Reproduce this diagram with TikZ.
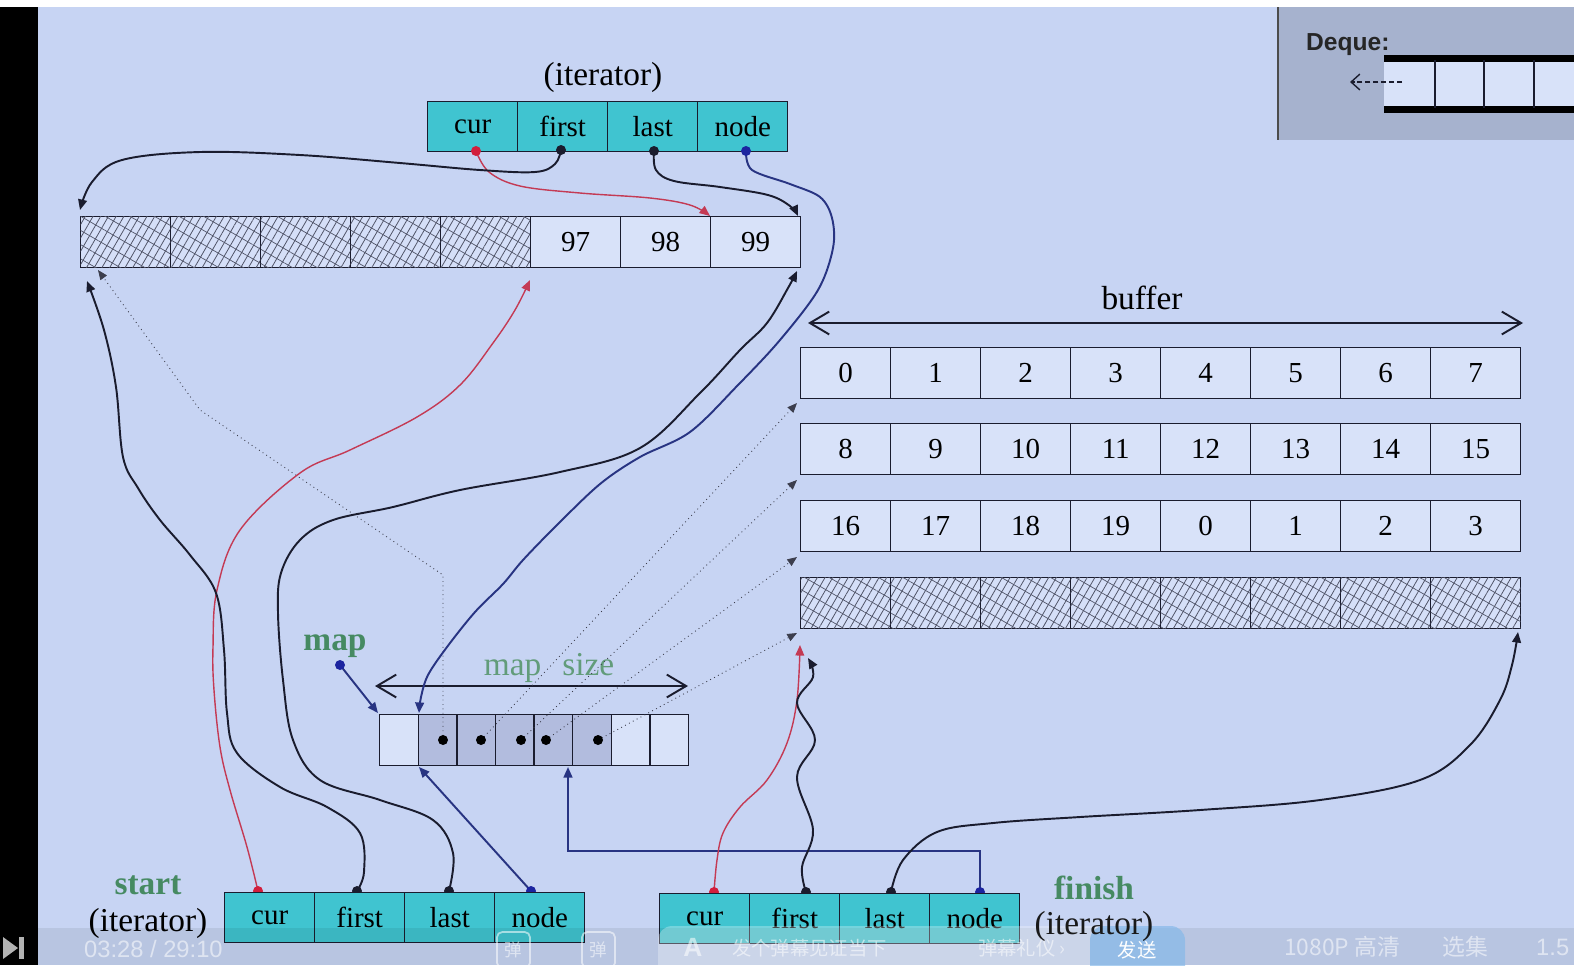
\documentclass[tikz,border=0pt]{standalone}
\usepackage{fontspec}
\setmainfont{Liberation Serif}
\newfontfamily\sansf{Liberation Sans}
\newfontfamily\cjkf{Noto Sans CJK SC}
\usetikzlibrary{arrows.meta,patterns.meta}
\definecolor{bg}{RGB}{199,212,243}
\definecolor{cyanc}{RGB}{64,196,208}
\definecolor{cellw}{RGB}{216,226,249}
\definecolor{mapg}{RGB}{178,188,222}
\definecolor{ink}{RGB}{26,28,46}
\definecolor{redl}{RGB}{196,58,84}
\definecolor{redd}{RGB}{210,30,60}
\definecolor{bluel}{RGB}{40,52,130}
\definecolor{blued}{RGB}{28,36,160}
\definecolor{greent}{RGB}{70,138,98}
\definecolor{dqgray}{RGB}{166,178,206}
\definecolor{hatch}{RGB}{80,84,104}
\definecolor{sendb}{RGB}{104,168,228}
\begin{document}
\begin{tikzpicture}[x=0.02cm,y=-0.02cm,
  cellbase/.style={draw=ink,line width=0.8pt,inner sep=0pt,anchor=north west,font=\fontsize{16.5}{18}\selectfont},
  itcell/.style={cellbase,fill=cyanc,minimum width=1.8cm,minimum height=1cm},
  bcell/.style={cellbase,fill=cellw,minimum width=1.8cm,minimum height=1.02cm},
  hcell/.style={bcell,fill=cellw!80!bg,
    postaction={pattern={Lines[angle=60,distance=3.8pt,line width=0.45pt]},pattern color=hatch},
    postaction={pattern={Lines[angle=-30,distance=7pt,line width=0.4pt]},pattern color=hatch}},
  mcell/.style={cellbase,fill=cellw,minimum width=0.772cm,minimum height=1.02cm},
  mgcell/.style={mcell,fill=mapg},
  conn/.style={line width=1.1pt,draw=ink,-{Triangle[length=6pt,width=5pt]}},
  rconn/.style={conn,draw=redl,line width=0.8pt},
  bconn/.style={conn,draw=bluel},
  dconn/.style={draw=ink!85,line width=0.5pt,dotted,-{Triangle[length=5.5pt,width=4.5pt]}},
  dimarrow/.style={line width=1.1pt,draw=ink,{Straight Barb[length=11pt,width=13pt]}-{Straight Barb[length=11pt,width=13pt]}},
  biglab/.style={font=\fontsize{19}{21}\selectfont},
  greenlab/.style={font=\bfseries\fontsize{19}{21}\selectfont,text=greent},
  ovl/.style={text=white,text opacity=0.55},
]
\useasboundingbox (0,0) rectangle (1574,965);
% background
\fill[bg] (0,0) rectangle (1574,965);
\fill[white] (0,0) rectangle (1574,7);
\fill[black] (0,7) rectangle (38,965);
% Deque box
\fill[dqgray] (1278,7) rectangle (1574,140);
\draw[black!70,line width=1pt] (1278,7) -- (1278,140);
\fill[cellw] (1384,60) rectangle (1574,108);
\draw[black,line width=4pt] (1384,58.5) -- (1574,58.5);
\draw[black,line width=4pt] (1384,109.5) -- (1574,109.5);
\foreach \x in {1435,1484,1534} \draw[ink,line width=0.9pt] (\x,60) -- (\x,108);
\node[font=\sansf\bfseries\fontsize{14}{16}\selectfont,text=black!85,anchor=west] (dq) at (1300,45) {Deque:};
\coordinate (dqa) at (1402,82);
\coordinate (dqb) at (1350,82);
\draw[ink,line width=0.8pt,dash pattern=on 3pt off 1.5pt,-{Straight Barb[length=5pt,width=9pt]}] (dqa) -- (dqb);

% top iterator
\node[biglab] (titlab) at (603,77) {(iterator)};
\foreach \i/\t in {0/cur,1/first,2/last,3/node}
  \node[itcell] (ti\i) at ({427+90*\i},101) {\t};
% top buffer
\foreach \i in {0,...,4} \node[hcell] (tb\i) at ({80+90*\i},216) {};
\foreach \i/\t in {5/97,6/98,7/99} \node[bcell] (tb\i) at ({80+90*\i},216) {\t};

% right buffers
\node[biglab] (buflab) at (1142,298) {buffer};
\coordinate (bufL) at (808,323);
\coordinate (bufR) at (1523,323);
\draw[dimarrow] (bufL) -- (bufR);
\foreach \i/\t in {0/0,1/1,2/2,3/3,4/4,5/5,6/6,7/7}
  \node[bcell] (ra\i) at ({800+90*\i},347) {\t};
\foreach \i/\t in {0/8,1/9,2/10,3/11,4/12,5/13,6/14,7/15}
  \node[bcell] (rb\i) at ({800+90*\i},423) {\t};
\foreach \i/\t in {0/16,1/17,2/18,3/19,4/0,5/1,6/2,7/3}
  \node[bcell] (rc\i) at ({800+90*\i},500) {\t};
\foreach \i in {0,...,7}
  \node[hcell] (rd\i) at ({800+90*\i},577) {};

% map
\node[greenlab] (maplab) at (335,646) {map};
\node[font=\fontsize{19}{21}\selectfont,text=greent!85!white] (mslab) at (549,668) {map\hspace{0.42cm}size};
\coordinate (msL) at (375,686);
\coordinate (msR) at (688,686);
\draw[dimarrow] (msL) -- (msR);
\node[mcell] (m0) at (379,714) {};
\foreach \i in {1,...,5} \node[mgcell] (m\i) at ({379+38.6*\i},714) {};
\foreach \i in {6,7} \node[mcell] (m\i) at ({379+38.6*\i},714) {};

% dot coordinates
\coordinate (tcur) at (476,151);
\coordinate (tfirst) at (561,150);
\coordinate (tlast) at (654,151);
\coordinate (tnode) at (746,151);
\coordinate (scur) at (258,891);
\coordinate (sfirst) at (357,891);
\coordinate (slast) at (449,891);
\coordinate (snode) at (531,891);
\coordinate (fcur) at (714,892);
\coordinate (ffirst) at (806,892);
\coordinate (flast) at (891,892);
\coordinate (fnode) at (980,892);
\coordinate (mapdot) at (340,665);
\coordinate (md1) at (443,740);
\coordinate (md2) at (481,740);
\coordinate (md3) at (521,740);
\coordinate (md4) at (546,740);
\coordinate (md5) at (598,740);
% targets
\coordinate (tbNW) at (80,210);
\coordinate (tb99) at (710,216);
\coordinate (tbNE) at (798,216);
\coordinate (tbSW) at (87,281);
\coordinate (tbSWd) at (98,270);
\coordinate (tb97) at (530,280);
\coordinate (tbSE) at (797,271);
\coordinate (m1top) at (419,713);
\coordinate (m1bot) at (419,767);
\coordinate (m0tl) at (378,713);
\coordinate (m5bot) at (568,767);
\coordinate (raSW) at (797,403);
\coordinate (rbSW) at (797,480);
\coordinate (rcSW) at (797,557);
\coordinate (rdSW) at (797,633);
\coordinate (rdSWr) at (800,645);
\coordinate (rdSWb) at (808,658);
\coordinate (rdSE) at (1518,632);

% dotted pointers from map
\draw[dconn] (md1) -- (443,575) -- (200,410) -- (tbSWd);
\draw[dconn] (md2) -- (raSW);
\draw[dconn] (md3) -- (rbSW);
\draw[dconn] (md4) -- (rcSW);
\draw[dconn] (md5) -- (rdSW);

% top iterator connectors
\draw[rconn] plot[smooth,tension=0.6] coordinates {(tcur) (489,172) (520,186) (580,193) (650,198) (690,205) (tb99)};
\draw[conn] plot[smooth,tension=0.6] coordinates {(tfirst) (555,164) (535,172) (480,170) (400,163) (300,155) (200,152) (122,160) (92,182) (tbNW)};
\draw[conn] plot[smooth,tension=0.6] coordinates {(tlast) (656,170) (674,181) (720,187) (768,195) (790,206) (tbNE)};
\draw[bconn] plot[smooth,tension=0.55] coordinates {(tnode) (752,170) (790,184) (820,197) (832,218) (833,248) (818,290) (780,340) (738,385) (690,432) (640,457) (600,484) (557,525) (523,560) (503,584) (475,612) (447,647) (428,675) (421,697) (m1top)};

% start iterator connectors
\draw[rconn] plot[smooth,tension=0.6] coordinates {(scur) (247,847) (230,790) (220,747) (214,690) (213,647) (217,590) (240,530) (300,473) (350,450) (417,417) (460,385) (493,343) (515,310) (tb97)};
\draw[conn] plot[smooth,tension=0.6] coordinates {(sfirst) (364,872) (360,833) (327,807) (280,787) (237,753) (227,713) (224,650) (216,593) (190,555) (160,520) (138,488) (123,457) (116,387) (104,330) (tbSW)};
\draw[conn] plot[smooth,tension=0.6] coordinates {(slast) (453,853) (433,820) (380,800) (320,780) (293,740) (283,680) (278,613) (281,573) (300,540) (333,520) (393,507) (460,490) (560,472) (640,448) (700,393) (740,350) (767,323) (788,288) (tbSE)};
\draw[bconn] (snode) -- (m1bot);
\draw[bconn] (mapdot) -- (m0tl);

% finish iterator connectors
\draw[bconn] (fnode) -- (980,851) -- (568,851) -- (m5bot);
\draw[rconn] plot[smooth,tension=0.6] coordinates {(fcur) (717,860) (723,833) (740,807) (767,780) (787,743) (797,700) (rdSWr)};
\draw[conn] plot[smooth,tension=0.6] coordinates {(ffirst) (802,867) (813,830) (797,777) (815,740) (797,703) (813,677) (rdSWb)};
\draw[conn] plot[smooth,tension=0.6] coordinates {(flast) (903,860) (937,832) (993,823) (1080,817) (1200,810) (1320,800) (1420,780) (1470,745) (1500,700) (1512,665) (rdSE)};

% dots
\foreach \p/\c in {tcur/redd,tfirst/ink,tlast/ink,tnode/blued,scur/redd,sfirst/ink,slast/ink,snode/blued,fcur/redd,ffirst/ink,flast/ink,fnode/blued,mapdot/blued,md1/black,md2/black,md3/black,md4/black,md5/black}
  \fill[\c] (\p) circle[radius=0.1cm];

% start / finish iterators
\node[greenlab] (stlab) at (148,885) {start};
\node[biglab] (stit) at (148,923) {(iterator)};
\foreach \i/\t in {0/cur,1/first,2/last,3/node}
  \node[itcell] (si\i) at ({224+90*\i},892) {\t};
\node[greenlab] (filab) at (1094,888) {finish};
\foreach \i/\t in {0/cur,1/first,2/last,3/node}
  \node[itcell] (fi\i) at ({659+90*\i},893) {\t};

% video player overlay
\fill[black,opacity=0.07] (38,928) rectangle (1574,965);
\fill[gray!60] (3,937) -- (18,948) -- (3,959) -- cycle;
\fill[gray!60] (19,937) rectangle (24,959);
\node[ovl,font=\sansf\fontsize{13.5}{15}\selectfont,anchor=west] (time) at (78,949) {03:28 / 29:10};
\draw[white,opacity=0.55,line width=1pt,rounded corners=3pt] (497,932) rectangle (530,968);
\node[ovl,font=\cjkf\fontsize{10}{12}\selectfont] (dm1) at (513,950) {弹};
\draw[white,opacity=0.55,line width=1pt,rounded corners=3pt] (582,932) rectangle (615,968);
\node[ovl,font=\cjkf\fontsize{10}{12}\selectfont] (dm2) at (598,950) {弹};
\fill[white,opacity=0.28,rounded corners=8pt] (658,926) rectangle (1185,980);
\node[ovl,font=\sansf\bfseries\fontsize{15}{17}\selectfont] (aa) at (693,947) {A};
\node[ovl,font=\cjkf\fontsize{11}{13}\selectfont,anchor=west] (dmtxt) at (726,948) {发个弹幕见证当下};
\node[ovl,font=\cjkf\fontsize{11}{13}\selectfont,anchor=west] (dmly) at (972,948) {弹幕礼仪 ›};
\fill[sendb,opacity=0.55,rounded corners=8pt] (1090,926) rectangle (1185,980);
\node[biglab,text=black!90] (fiit) at (1094,926) {(iterator)};
\node[text=white,font=\cjkf\fontsize{11}{13}\selectfont] (send) at (1137,950) {发送};
\node[ovl,font=\cjkf\fontsize{13}{15}\selectfont,anchor=west] (hd) at (1278,947) {1080P 高清};
\node[ovl,font=\cjkf\fontsize{13}{15}\selectfont,anchor=west] (xj) at (1436,947) {选集};
\node[ovl,font=\sansf\fontsize{13.5}{15}\selectfont,anchor=west] (spd) at (1530,947) {1.5};
\end{tikzpicture}
\end{document}
